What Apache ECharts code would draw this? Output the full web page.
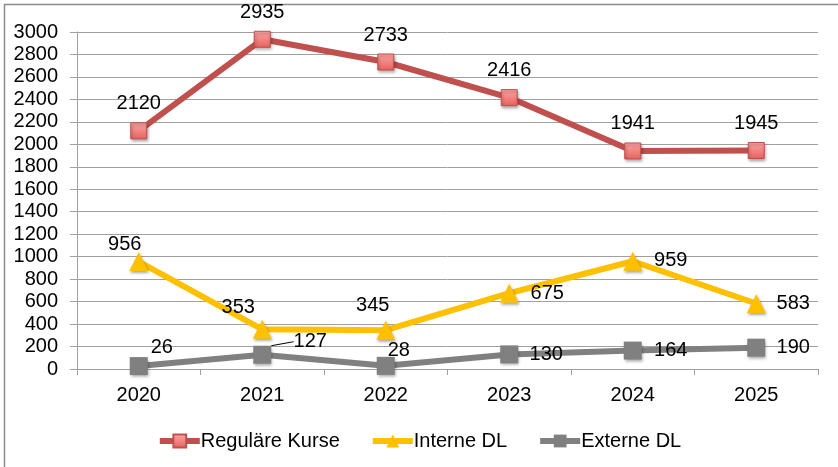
<!DOCTYPE html>
<html>
<head>
<meta charset="utf-8">
<script src="https://cdn.jsdelivr.net/npm/echarts@6/dist/echarts.min.js"></script>
<style>
html,body{margin:0;padding:0;background:#fff;}
#c{width:838px;height:467px;}
</style>
</head>
<body>
<div id="c"></div>
<script>
var categories = ['2020', '2021', '2022', '2023', '2024', '2025'];
var regulaereKurse = [2120, 2935, 2733, 2416, 1941, 1945];
var interneDL = [956, 353, 345, 675, 959, 583];
var externeDL = [26, 127, 28, 130, 164, 190];
var yTicks = { min: 0, max: 3000, interval: 200 };

// label offsets (style only)
var offReg = [[0,-27],[0,-27],[0,-27],[0,-27],[0,-27],[0,-27]];
var offInt = [[-14,-17],[-24,-22],[-13,-25],[38,0],[38,-1],[37,0]];
var offExt = [[23,-19],[48,-13],[13,-15],[37,0],[38,0],[37,0]];

var FONT = 'Liberation Sans, Arial, sans-serif';
var FS = 20;

function layoutFn(offs) {
  return function (p) {
    var o = offs[p.dataIndex];
    return { dx: o[0], dy: o[1] };
  };
}

var chart = echarts.init(document.getElementById('c'), null, { renderer: 'canvas' });
var labelBase = { show: true, position: 'inside', fontSize: FS, color: '#000', fontFamily: FONT };
var shadow = { shadowBlur: 3, shadowColor: 'rgba(0,0,0,0.35)', shadowOffsetX: 1, shadowOffsetY: 2 };

var extData = externeDL.map(function (v, i) {
  var d = { value: v };
  if (i === 1) d.labelLine = { show: true, lineStyle: { color: '#000', width: 1 } };
  return d;
});

chart.setOption({
  backgroundColor: '#fff',
  animation: false,
  textStyle: { fontFamily: FONT },
  graphic: [{
    type: 'rect', silent: true,
    shape: { x: 4.5, y: 4.5, width: 1000, height: 1000 },
    style: { fill: 'none', stroke: '#8c8c8c', lineWidth: 1.5 }
  }],
  grid: { left: 77, right: 20, top: 32, bottom: 98, containLabel: false },
  legend: {
    bottom: 11, left: 'center',
    itemWidth: 40, itemHeight: 16, itemGap: 30,
    lineStyle: { width: 6 },
    textStyle: { fontSize: FS, color: '#000', fontFamily: FONT, padding: [0, 0, 0, -4] },
    data: ['Reguläre Kurse', 'Interne DL', 'Externe DL']
  },
  xAxis: {
    type: 'category', data: categories, boundaryGap: true,
    axisLine: { lineStyle: { color: '#a0a0a0', width: 1 } },
    axisTick: { show: true, length: 6, lineStyle: { color: '#a0a0a0' } },
    axisLabel: { fontSize: FS, color: '#000', margin: 16, fontFamily: FONT }
  },
  yAxis: {
    type: 'value', min: yTicks.min, max: yTicks.max, interval: yTicks.interval,
    axisLine: { show: true, lineStyle: { color: '#a0a0a0', width: 1 } },
    axisTick: { show: true, length: 7, lineStyle: { color: '#a0a0a0' } },
    splitLine: { show: true, lineStyle: { color: '#a0a0a0', width: 1 } },
    axisLabel: { fontSize: FS, color: '#000', margin: 19, fontFamily: FONT,
      formatter: function (v) { return String(v); } }
  },
  series: [
    {
      name: 'Reguläre Kurse', type: 'line', data: regulaereKurse,
      symbol: 'rect', symbolSize: 16, z: 3,
      lineStyle: { color: '#c0504d', width: 6 },
      itemStyle: Object.assign({
        color: new echarts.graphic.LinearGradient(0, 0, 0, 1, [
          { offset: 0, color: '#fba8a6' }, { offset: 1, color: '#e8605d' }
        ]),
        borderColor: '#c0504d', borderWidth: 1
      }, shadow),
      label: labelBase,
      labelLayout: layoutFn(offReg)
    },
    {
      name: 'Interne DL', type: 'line', data: interneDL,
      symbol: 'triangle', symbolSize: 19, z: 2,
      lineStyle: { color: '#ffc000', width: 6 },
      itemStyle: Object.assign({ color: '#ffc000', borderColor: '#ffc000', borderWidth: 0 }, shadow),
      label: labelBase,
      labelLayout: layoutFn(offInt)
    },
    {
      name: 'Externe DL', type: 'line', data: extData,
      symbol: 'rect', symbolSize: 18, z: 1,
      lineStyle: { color: '#808080', width: 6 },
      itemStyle: Object.assign({ color: '#808080', borderColor: '#808080', borderWidth: 0 }, shadow),
      label: labelBase,
      labelLine: { show: false },
      labelLayout: layoutFn(offExt)
    }
  ]
});
</script>
</body>
</html>
